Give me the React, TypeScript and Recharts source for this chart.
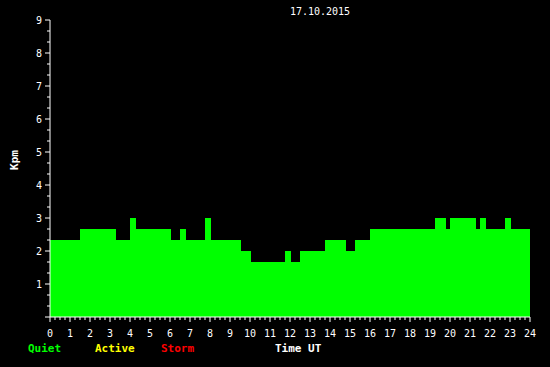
import { Area, AreaChart, XAxis, YAxis } from 'recharts';

// Kpm step values, 17.10.2015 (hour where each step starts)
const stepHours = [0, 1.5, 3.3, 4.0, 4.3, 6.05, 6.5, 6.8, 7.75, 8.05, 9.55, 10.05, 11.75, 12.05, 12.5, 13.75, 14.8, 15.25, 16.0, 19.25, 19.8, 20.0, 21.3, 21.5, 21.8, 22.75, 23.05, 24];
const kpmValues = [2.333, 2.667, 2.333, 3, 2.667, 2.333, 2.667, 2.333, 3, 2.333, 2, 1.667, 2, 1.667, 2, 2.333, 2, 2.333, 2.667, 3, 2.667, 3, 2.667, 3, 2.667, 3, 2.667, 2.667];

const yLabels = [1, 2, 3, 4, 5, 6, 7, 8, 9];
const xLabels = [0, 1, 2, 3, 4, 5, 6, 7, 8, 9, 10, 11, 12, 13, 14, 15, 16, 17, 18, 19, 20, 21, 22, 23, 24];

const legendItems = [
  { name: 'Quiet', color: '#00ff00', x: 28 },
  { name: 'Active', color: '#ffff00', x: 95 },
  { name: 'Storm', color: '#ff0000', x: 161 },
];

const data = stepHours.map((h, i) => ({ hour: h, kpm: kpmValues[i] }));

// minor ticks: thirds on Y, quarter hours on X
const yTicks: number[] = [];
for (let i = 0; i <= 27; i++) yTicks.push(i / 3);
const xTicks: number[] = [];
for (let i = 0; i <= 96; i++) xTicks.push(i / 4);

const font = '"DejaVu Sans Mono", monospace';

function isMajor(v: number) {
  return Math.abs(v - Math.round(v)) < 0.001;
}

function YTick({ x, y, payload }: any) {
  const major = isMajor(payload.value);
  const label = Math.round(payload.value);
  return (
    <g>
      <line x1={x - (major ? 5 : 3)} x2={x} y1={y} y2={y} stroke="#fff" />
      {major && yLabels.includes(label) && (
        <text x={x - 8} y={y + 4} textAnchor="end" fill="#fff" fontSize={10} fontFamily={font}>
          {label}
        </text>
      )}
    </g>
  );
}

function XTick({ x, y, payload }: any) {
  const major = isMajor(payload.value);
  const label = Math.round(payload.value);
  return (
    <g>
      <line x1={x} x2={x} y1={y} y2={y + (major ? 5 : 3)} stroke="#fff" />
      {major && xLabels.includes(label) && (
        <text x={x} y={y + 20} textAnchor="middle" fill="#fff" fontSize={10} fontFamily={font}>
          {label}
        </text>
      )}
    </g>
  );
}

export default function App() {
  return (
    <div style={{ position: 'absolute', left: 0, top: 0, width: 550, height: 367, background: '#000', fontFamily: font }}>
      <AreaChart width={550} height={367} data={data} margin={{ top: 20, right: 20, left: 0, bottom: 20 }}>
        <XAxis
          dataKey="hour"
          type="number"
          domain={[0, 24]}
          ticks={xTicks}
          interval={0}
          tickSize={0}
          tickMargin={0}
          height={30}
          axisLine={{ stroke: '#fff' }}
          tick={<XTick />}
        />
        <YAxis
          type="number"
          domain={[0, 9]}
          ticks={yTicks}
          interval={0}
          tickSize={0}
          tickMargin={0}
          width={50}
          axisLine={{ stroke: '#fff' }}
          tick={<YTick />}
        />
        <Area
          type="stepAfter"
          dataKey="kpm"
          stroke="none"
          fill="#00ff00"
          fillOpacity={1}
          isAnimationActive={false}
        />
      </AreaChart>

      <div style={{ position: 'absolute', left: 0, top: 6, width: 640, textAlign: 'center', color: '#fff', fontSize: 10 }}>
        17.10.2015
      </div>
      <div
        style={{
          position: 'absolute',
          left: 14,
          top: 160,
          transform: 'translate(-50%, -50%) rotate(-90deg)',
          color: '#fff',
          fontSize: 11,
          fontWeight: 'bold',
        }}
      >
        Kpm
      </div>
      {legendItems.map((item) => (
        <div
          key={item.name}
          style={{ position: 'absolute', left: item.x, top: 342, color: item.color, fontSize: 11, fontWeight: 'bold' }}
        >
          {item.name}
        </div>
      ))}
      <div style={{ position: 'absolute', left: 275, top: 342, color: '#fff', fontSize: 11, fontWeight: 'bold' }}>
        Time UT
      </div>
    </div>
  );
}
